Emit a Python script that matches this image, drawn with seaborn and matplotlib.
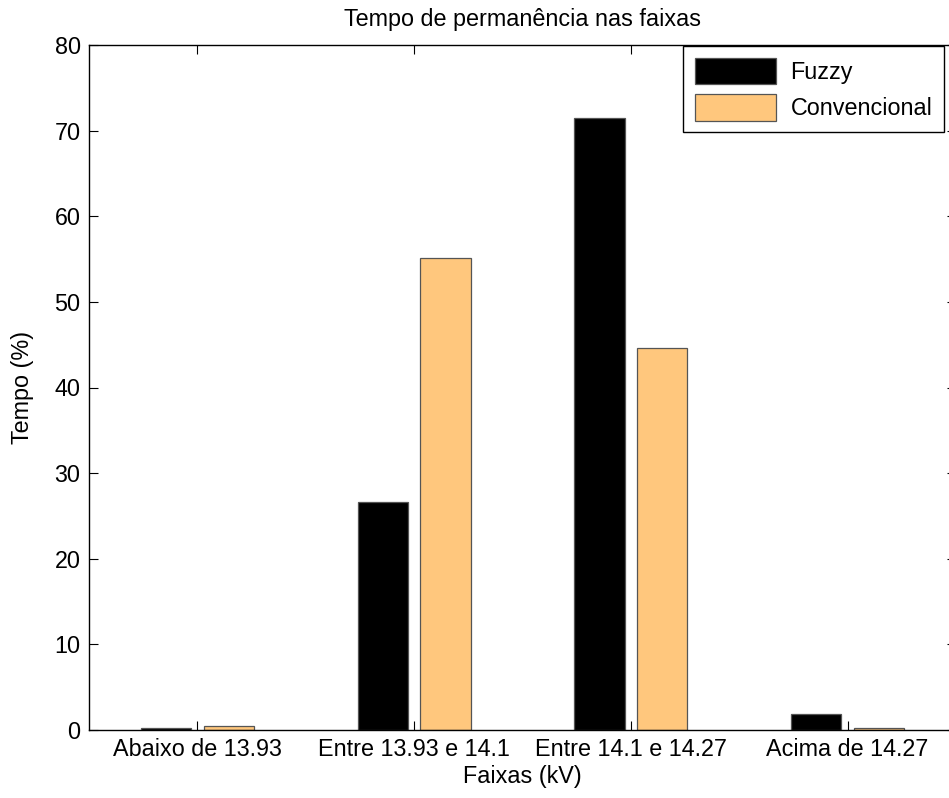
"""
Tempo de permanência nas faixas: Fuzzy x Convencional.
"""
import matplotlib
matplotlib.use("Agg")
import matplotlib.pyplot as plt
import pandas as pd
import seaborn as sns

faixas = ["Abaixo de 13.93", "Entre 13.93 e 14.1", "Entre 14.1 e 14.27", "Acima de 14.27"]
fuzzy = [0.2, 26.6, 71.5, 1.9]
convencional = [0.45, 55.1, 44.6, 0.25]
metodos = ["Fuzzy", "Convencional"]
cores = ["#000000", "#FFC77D"]
y_ticks = [0, 10, 20, 30, 40, 50, 60, 70, 80]

FS = 16.8
sns.set_style("ticks")
plt.rcParams["font.family"] = ["Liberation Sans", "DejaVu Sans"]
plt.rcParams["font.size"] = FS
plt.rcParams["text.color"] = "black"
plt.rcParams["axes.labelcolor"] = "black"

df = pd.DataFrame({
    "faixa": faixas * 2,
    "metodo": [metodos[0]] * len(faixas) + [metodos[1]] * len(faixas),
    "tempo": fuzzy + convencional,
})

W, H = 949, 798
fig = plt.figure(figsize=(W / 100, H / 100), dpi=100)
ax = fig.add_axes([89 / W, 1 - 730 / H, 867 / W, 685 / H])

sns.barplot(
    data=df, x="faixa", y="tempo", hue="metodo", order=faixas, hue_order=metodos,
    palette=cores, width=0.58, gap=0.2, ax=ax, legend=False,
    edgecolor="#555555", linewidth=0.9, saturation=1,
)

ax.set_xlim(-0.5, 3.5)
ax.set_ylim(0, 80)
ax.set_yticks(y_ticks)
ax.set_title("Tempo de permanência nas faixas", fontsize=FS, pad=14, color="black")
ax.set_xlabel("Faixas (kV)", fontsize=FS, labelpad=3)
ax.set_ylabel("Tempo (%)", fontsize=FS, labelpad=15)
ax.tick_params(direction="in", length=6.5, width=0.8, top=True, right=True,
               labelsize=FS, colors="black", pad=6)
for s in ax.spines.values():
    s.set_visible(True)
    s.set_color("black")
    s.set_linewidth(1.0)

handles = [plt.Rectangle((0, 0), 1, 1, facecolor=c, edgecolor="#555555", linewidth=0.9)
           for c in cores]
leg = ax.legend(
    handles, metodos, loc="upper right", bbox_to_anchor=(944 / W, 1 - 46 / H),
    bbox_transform=fig.transFigure, borderaxespad=0, fancybox=False,
    framealpha=1, edgecolor="black", handlelength=3.5, handleheight=1.35,
    handletextpad=0.6, labelspacing=0.45, borderpad=0.5, fontsize=FS,
)
leg.get_frame().set_linewidth(1.0)

fig.savefig("out.png", dpi=100)
plt.close(fig)
